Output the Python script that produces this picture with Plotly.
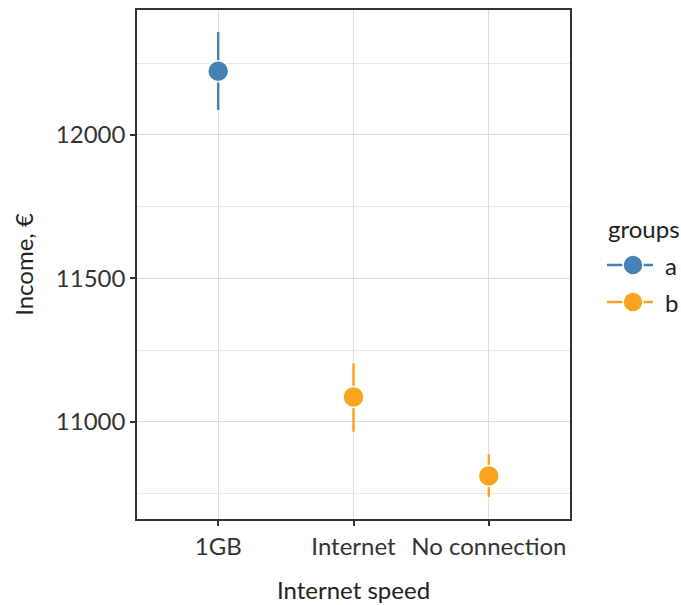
import plotly.graph_objects as go

categories = ["1GB", "Internet", "No connection"]
groups = ["a", "b", "b"]
income = [12222, 11087, 10812]
upper = [12358, 11204, 10887]
lower = [12087, 10966, 10739]
colors = {"a": "#4682B4", "b": "#F9A41E"}
legend_groups = ["a", "b"]
yticks = [11000, 11500, 12000]
yticklabels = ["11000", "11500", "12000"]

FONT = "Lato, 'Open Sans', sans-serif"
FS = 24

fig = go.Figure()
for g in legend_groups:
    idx = [i for i, gg in enumerate(groups) if gg == g]
    xs = [i for i in idx]
    ys = [income[i] for i in idx]
    ep = [upper[i] - income[i] for i in idx]
    em = [income[i] - lower[i] for i in idx]
    fig.add_trace(go.Scatter(
        x=xs, y=ys, mode="markers", name=g,
        error_y=dict(type="data", symmetric=False, array=ep, arrayminus=em,
                     width=0, thickness=2.5, color=colors[g]),
        marker=dict(size=21, color=colors[g], line=dict(color="white", width=1.5)),
        showlegend=False, cliponaxis=False,
    ))

# manual legend (ggplot-style)
W, H = 433, 509
def px(v):
    return v / W
def py(v):
    return v / H
fig.add_annotation(xref="paper", yref="paper", x=px(469), y=py(291), text="groups",
                   showarrow=False, xanchor="left", yanchor="middle",
                   font=dict(size=FS, color="#222222"))
leg_y = [254, 217]
for g, yy in zip(legend_groups, leg_y):
    fig.add_shape(type="line", xref="paper", yref="paper",
                  x0=px(470), x1=px(516), y0=py(yy), y1=py(yy),
                  line=dict(color=colors[g], width=2.5))
    fig.add_shape(type="circle", xref="paper", yref="paper",
                  x0=px(486), x1=px(506), y0=py(yy - 10), y1=py(yy + 10),
                  fillcolor=colors[g], line=dict(color="white", width=1.5))
    fig.add_annotation(xref="paper", yref="paper", x=px(526), y=py(yy), text=g,
                       showarrow=False, xanchor="left", yanchor="middle",
                       font=dict(size=FS, color="#222222"))

# x-axis title
fig.add_annotation(xref="paper", yref="paper", x=0.5, y=py(-70), text="Internet speed",
                   showarrow=False, xanchor="center", yanchor="middle",
                   font=dict(size=FS, color="#222222"))

fig.update_layout(
    width=681, height=605,
    margin=dict(l=137, r=111, t=10, b=86),
    paper_bgcolor="white", plot_bgcolor="white",
    font=dict(family=FONT, size=FS, color="#333333"),
    showlegend=False,
)
fig.update_xaxes(
    range=[-0.6, 2.6], tickmode="array", tickvals=[0, 1, 2], ticktext=categories,
    showgrid=True, gridcolor="#DEDEDE", gridwidth=1.2,
    showline=True, linecolor="#333333", linewidth=1.5, mirror=True,
    ticks="outside", ticklen=5, tickcolor="#333333", tickwidth=1.5,
    tickfont=dict(size=FS, color="#333333"), zeroline=False, automargin=False,
)
fig.update_yaxes(
    range=[10662, 12435], tickmode="array", tickvals=yticks, ticktext=yticklabels,
    showgrid=True, gridcolor="#DEDEDE", gridwidth=1.2,
    minor=dict(tickvals=[10750, 11250, 11750, 12250], showgrid=True,
               gridcolor="#E8E8E8", gridwidth=1, ticks=""),
    showline=True, linecolor="#333333", linewidth=1.5, mirror=True,
    ticks="outside", ticklen=5, tickcolor="#333333", tickwidth=1.5,
    title=dict(text="Income, €", font=dict(size=FS, color="#222222")),
    tickfont=dict(size=FS, color="#333333"), zeroline=False, automargin=False,
)
fig.write_html(
    "out.html",
    config={"displayModeBar": False},
    post_script="document.documentElement.style.margin='0';document.body.style.margin='0';"
                "document.body.style.padding='0';document.body.style.overflow='hidden';",
)
